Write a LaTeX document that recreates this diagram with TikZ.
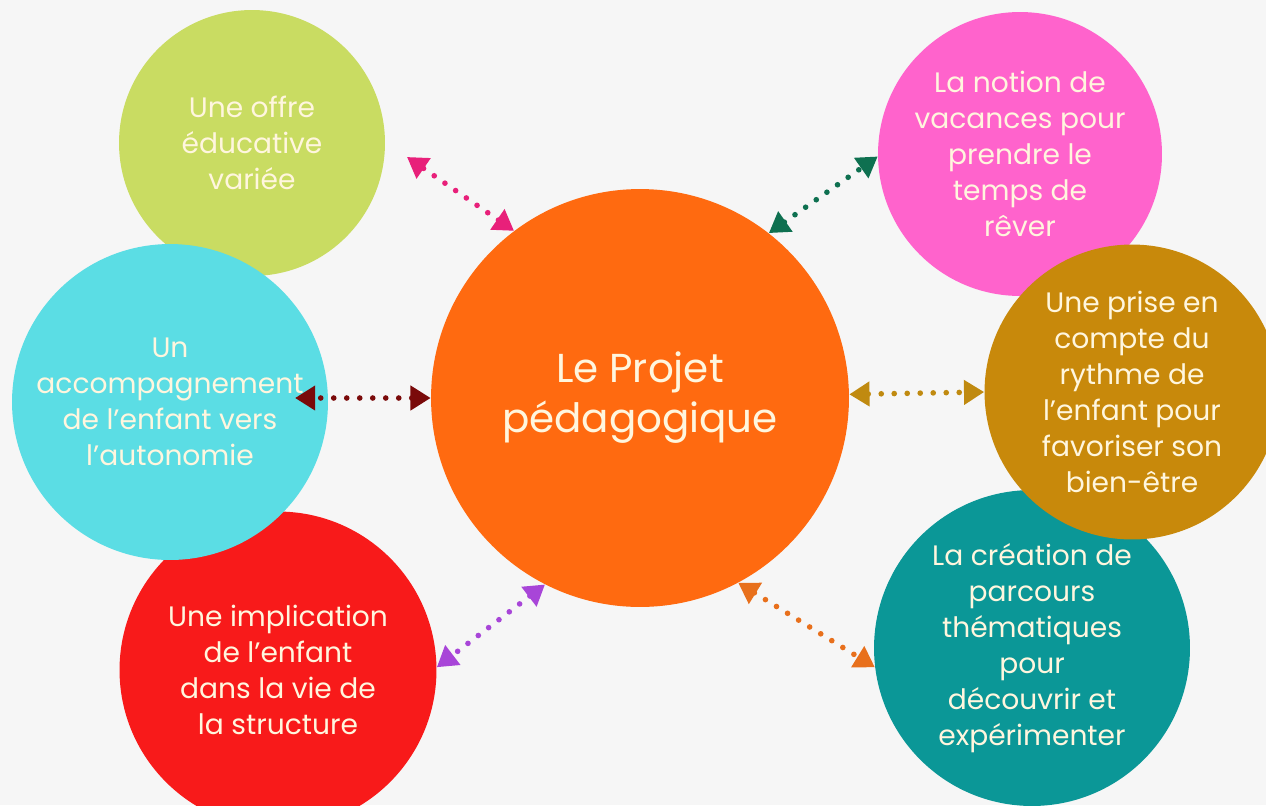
\documentclass[tikz,border=0pt]{standalone}
\usepackage{fontspec}
\setmainfont{Poppins}
\usetikzlibrary{arrows.meta}
\definecolor{bgcol}{HTML}{F6F6F6}
\definecolor{txtcol}{HTML}{FFF6DE}
\definecolor{vert}{HTML}{C9DC62}
\definecolor{cyan}{HTML}{5BDDE4}
\definecolor{rouge}{HTML}{F81A1A}
\definecolor{rose}{HTML}{FF63CC}
\definecolor{ocre}{HTML}{C8890B}
\definecolor{canard}{HTML}{0B9797}
\definecolor{orange}{HTML}{FF6A10}
\definecolor{fleche1}{HTML}{E8207A}
\definecolor{fleche2}{HTML}{0E7050}
\definecolor{fleche3}{HTML}{7A0A0A}
\definecolor{fleche4}{HTML}{C08A10}
\definecolor{fleche5}{HTML}{A845D8}
\definecolor{fleche6}{HTML}{E8701C}

\begin{document}
\begin{tikzpicture}
  [x=0.02cm,y=-0.02cm,every node/.style={circle,inner sep=0pt,align=center,text=txtcol,font=\fontsize{16}{20.5}\selectfont},
   link/.style={line width=3.2pt,line cap=round,dash pattern=on 0pt off 7.4pt,>={Triangle[length=11.5pt,width=13.5pt]},<->}]
  \clip (0,0) rectangle (1266,805);
  \fill[bgcol] (0,0) rectangle (1266,805);

  \node[style={fill=vert,minimum size=5.32cm}] (offre) at (252,143) {Une offre\\éducative\\variée};
  \node[style={fill=rouge,minimum size=6.34cm}] (impl) at (278,670) {Une implication\\de l’enfant\\dans la vie de\\la structure};
  \node[style={fill=cyan,minimum size=6.32cm}] (accomp) at (170,402) {Un\\accompagnement\\de l’enfant vers\\l’autonomie};
  \node[style={fill=rose,minimum size=5.68cm}] (vac) at (1020,154) {La notion de\\vacances pour\\prendre le\\temps de\\rêver};
  \node[style={fill=canard,minimum size=6.32cm}] (parc) at (1032,648) {La création de\\parcours\\thématiques\\pour\\découvrir et\\expérimenter};
  \node[style={fill=ocre,minimum size=5.9cm}] (rythme) at (1132,392) {Une prise en\\compte du\\rythme de\\l’enfant pour\\favoriser son\\bien-être};
  \node[style={fill=orange,minimum size=8.36cm,font=\fontsize{23}{28.5}\selectfont}] (proj) at (640,398) {Le Projet\\pédagogique};

  \coordinate (bout1) at (407,157);
  \coordinate (bout3) at (295,398);

  \foreach \from/\to/\col in {proj.127.8/bout1/fleche1,proj.52.9/vac.181/fleche2,proj.west/bout3/fleche3,proj.1/rythme.west/fleche4,proj.243.7/impl.1/fleche5,proj.298.5/parc.187/fleche6}
    \draw[link,\col] (\from) -- (\to);

\end{tikzpicture}
\end{document}
